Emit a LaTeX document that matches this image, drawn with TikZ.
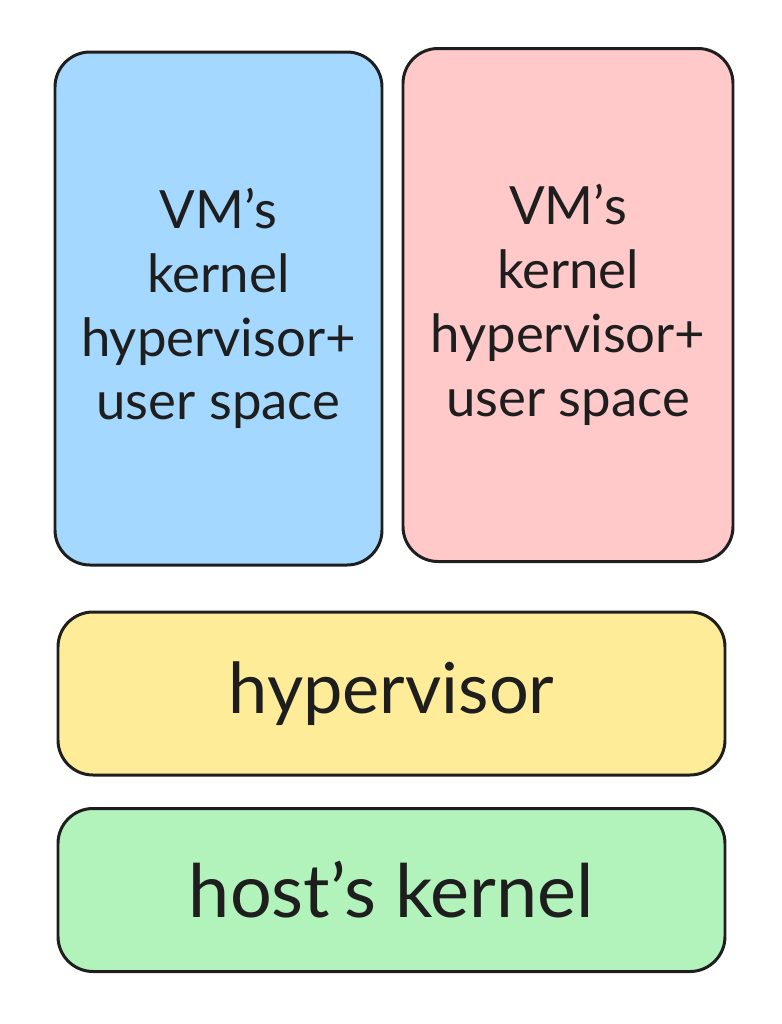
\documentclass[tikz,border=0pt]{standalone}
\usepackage{fontspec}
\setmainfont{Lato}
\definecolor{vmblue}{HTML}{A5D8FF}
\definecolor{vmpink}{HTML}{FFC9C9}
\definecolor{hypyellow}{HTML}{FFEC99}
\definecolor{hostgreen}{HTML}{B2F2BB}
\definecolor{ink}{HTML}{1E1E1E}
\begin{document}
\begin{tikzpicture}[
    layer/.style={draw=ink, line width=1.7pt, rounded corners=0.7cm, text=ink, align=center, inner sep=0pt},
    vmbox/.style={layer, minimum width=6.54cm, minimum height=10.26cm, font=\fontsize{30}{36.3}\selectfont},
    wide/.style={layer, minimum width=13.34cm, minimum height=3.26cm}
  ]
    \useasboundingbox (0,0) rectangle (15.64,-20.48);
    % two guests on top
    \node[vmbox, fill=vmblue] (vmA) at (4.37,-6.17) {VM’s\\kernel\\hypervisor+\\user space};
    \node[vmbox, fill=vmpink, minimum width=6.6cm] (vmB) at (11.36,-6.1) {VM’s\\kernel\\hypervisor+\\user space};
    % layers below
    \node[wide, fill=hypyellow, font=\fontsize{40}{46}\selectfont] (hyp) at (7.83,-13.87) {hypervisor};
    \node[wide, fill=hostgreen, font=\fontsize{42}{48}\selectfont] (host) at (7.83,-17.8) {host’s kernel};
\end{tikzpicture}
\end{document}
